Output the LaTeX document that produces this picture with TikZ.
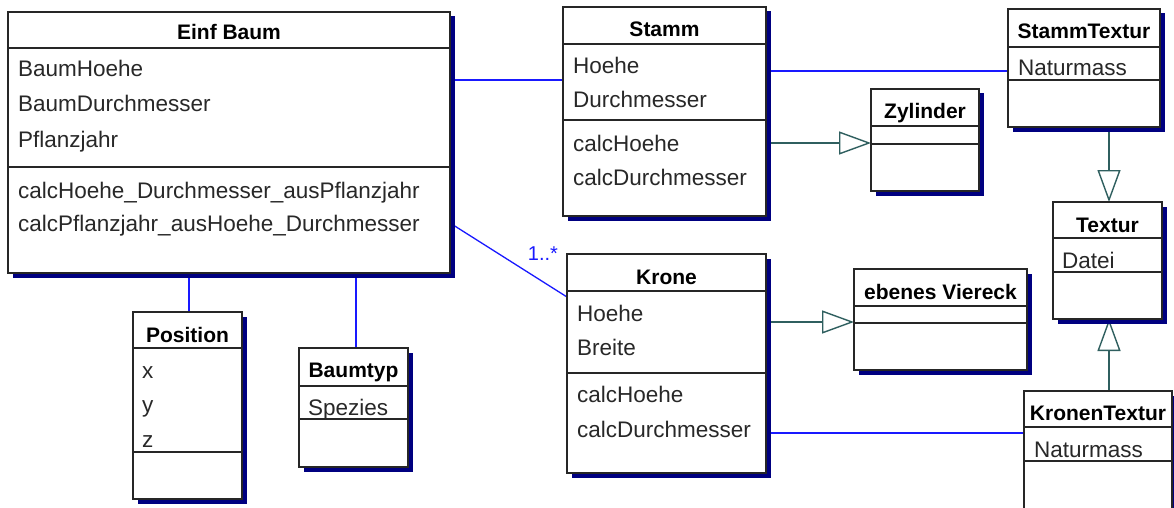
\documentclass[tikz,border=0pt]{standalone}
\usepackage{fontspec}
\setmainfont{Liberation Sans}
\usetikzlibrary{arrows.meta,shadows,backgrounds}
\definecolor{navyshadow}{RGB}{0,0,128}
\definecolor{assocblue}{RGB}{25,25,255}
\definecolor{genteal}{RGB}{47,95,95}
\definecolor{txtgray}{RGB}{40,40,40}
\tikzset{
 cls/.style={draw=black!85, line width=1.4pt, fill=white, inner sep=0pt, outer sep=0pt, anchor=north west,
   general shadow={fill=navyshadow, shadow xshift=4.5pt, shadow yshift=-4.5pt}},
 sepline/.style={draw=black!85, line width=1.4pt},
 ttl/.style={font=\fontsize{21}{24}\selectfont\bfseries, inner sep=0pt, anchor=base, text=black},
 attr/.style={font=\fontsize{22.5}{26}\selectfont, inner sep=0pt, anchor=base west, text=txtgray},
 assoc/.style={draw=assocblue, line width=1.3pt},
 gen/.style={draw=genteal, line width=1.4pt, -{Triangle[open, length=32pt, width=23pt, line width=1.4pt]}},
 mult/.style={font=\fontsize{20}{24}\selectfont, text=assocblue, inner sep=0pt, anchor=base},
}
\begin{document}
\begin{tikzpicture}[x=1pt,y=-1pt]
\useasboundingbox (0,0) rectangle (1174,508);
\clip (0,0) rectangle (1174,508);

% class boxes
\node[cls, minimum width=442pt, minimum height=261pt] (einf) at (8,12) {};
\node[cls, minimum width=203pt, minimum height=209pt] (stamm) at (563,7) {};
\node[cls, minimum width=152pt, minimum height=118pt] (stammtex) at (1008,9) {};
\node[cls, minimum width=108pt, minimum height=102pt] (zyl) at (871,89) {};
\node[cls, minimum width=109pt, minimum height=117pt] (textur) at (1053,202) {};
\node[cls, minimum width=173pt, minimum height=101pt] (viereck) at (854,269) {};
\node[cls, minimum width=148pt, minimum height=130pt] (krontex) at (1024,391) {};
\node[cls, minimum width=199pt, minimum height=219pt] (krone) at (567,254) {};
\node[cls, minimum width=109pt, minimum height=187pt] (position) at (133,312) {};
\node[cls, minimum width=109pt, minimum height=119pt] (baumtyp) at (299,348) {};

% separators
\foreach \n/\a/\b in {einf/48/167, stamm/44/120, stammtex/47/80, zyl/126/144, textur/238/272,
  viereck/306/323, krontex/427/461, krone/291/373, position/348/452, baumtyp/386/419}{
  \draw[sepline] (\n.west |- 0,\a) -- (\n.east |- 0,\a);
  \draw[sepline] (\n.west |- 0,\b) -- (\n.east |- 0,\b);
}

% Einf Baum
\node[ttl] (einf-t) at (einf.north |- 0,40) {Einf Baum};
\node[attr] (einf-a1) at (18,77) {BaumHoehe};
\node[attr] (einf-a2) at (18,112) {BaumDurchmesser};
\node[attr] (einf-a3) at (18,147) {Pflanzjahr};
\node[attr] (einf-m1) at (18,198) {calcHoehe\_Durchmesser\_ausPflanzjahr};
\node[attr] (einf-m2) at (18,231) {calcPflanzjahr\_ausHoehe\_Durchmesser};

% Stamm
\node[ttl] (stamm-t) at (stamm.north |- 0,37) {Stamm};
\node[attr] (stamm-a1) at (573,74) {Hoehe};
\node[attr] (stamm-a2) at (573,108) {Durchmesser};
\node[attr] (stamm-m1) at (573,151) {calcHoehe};
\node[attr] (stamm-m2) at (573,185) {calcDurchmesser};

% StammTextur
\node[ttl] (stammtex-t) at (stammtex.north |- 0,39) {StammTextur};
\node[attr] (stammtex-a1) at (1018,76) {Naturmass};

% Zylinder
\node[ttl] (zyl-t) at (zyl.north |- 0,118) {Zylinder};

% Textur
\node[ttl] (textur-t) at (textur.north |- 0,232) {Textur};
\node[attr] (textur-a1) at (1062,268) {Datei};

% ebenes Viereck
\node[ttl] (viereck-t) at (viereck.north |- 0,299) {ebenes Viereck};

% KronenTextur
\node[ttl] (krontex-t) at (krontex.north |- 0,420) {KronenTextur};
\node[attr] (krontex-a1) at (1034,457) {Naturmass};

% Krone
\node[ttl] (krone-t) at (krone.north |- 0,284) {Krone};
\node[attr] (krone-a1) at (577,321) {Hoehe};
\node[attr] (krone-a2) at (577,355) {Breite};
\node[attr] (krone-m1) at (577,402) {calcHoehe};
\node[attr] (krone-m2) at (577,437) {calcDurchmesser};

% Position
\node[ttl] (position-t) at (position.north |- 0,342) {Position};
\node[attr] (position-a1) at (142,378) {x};
\node[attr] (position-a2) at (142,412) {y};
\node[attr] (position-a3) at (142,447) {z};

% Baumtyp
\node[ttl] (baumtyp-t) at (baumtyp.north |- 0,377) {Baumtyp};
\node[attr] (baumtyp-a1) at (308,415) {Spezies};

% multiplicity
\node[mult] (mult1) at (543,260) {1..*};

% connectors
\begin{scope}[on background layer]
\fill[white] (0,0) rectangle (1174,508);
\draw[assoc] (einf.east |- 0,80) -- (stamm.west |- 0,80);
\draw[assoc] (stamm.east |- 0,71) -- (stammtex.west |- 0,71);
\draw[gen] (stamm.east |- 0,143) -- (zyl.west |- 0,143);
\draw[gen] (krone.east |- 0,322) -- (viereck.west |- 0,322);
\draw[assoc] (krone.east |- 0,433) -- (krontex.west |- 0,433);
\draw[gen] (stammtex.south -| 1109,0) -- (textur.north -| 1109,0);
\draw[gen] (krontex.north -| 1109,0) -- (textur.south -| 1109,0);
\draw[assoc] (einf.east |- 0,223) -- (krone.west |- 0,297);
\draw[assoc] (einf.south -| 189,0) -- (position.north -| 189,0);
\draw[assoc] (einf.south -| 356,0) -- (baumtyp.north -| 356,0);
\end{scope}
\end{tikzpicture}
\end{document}
